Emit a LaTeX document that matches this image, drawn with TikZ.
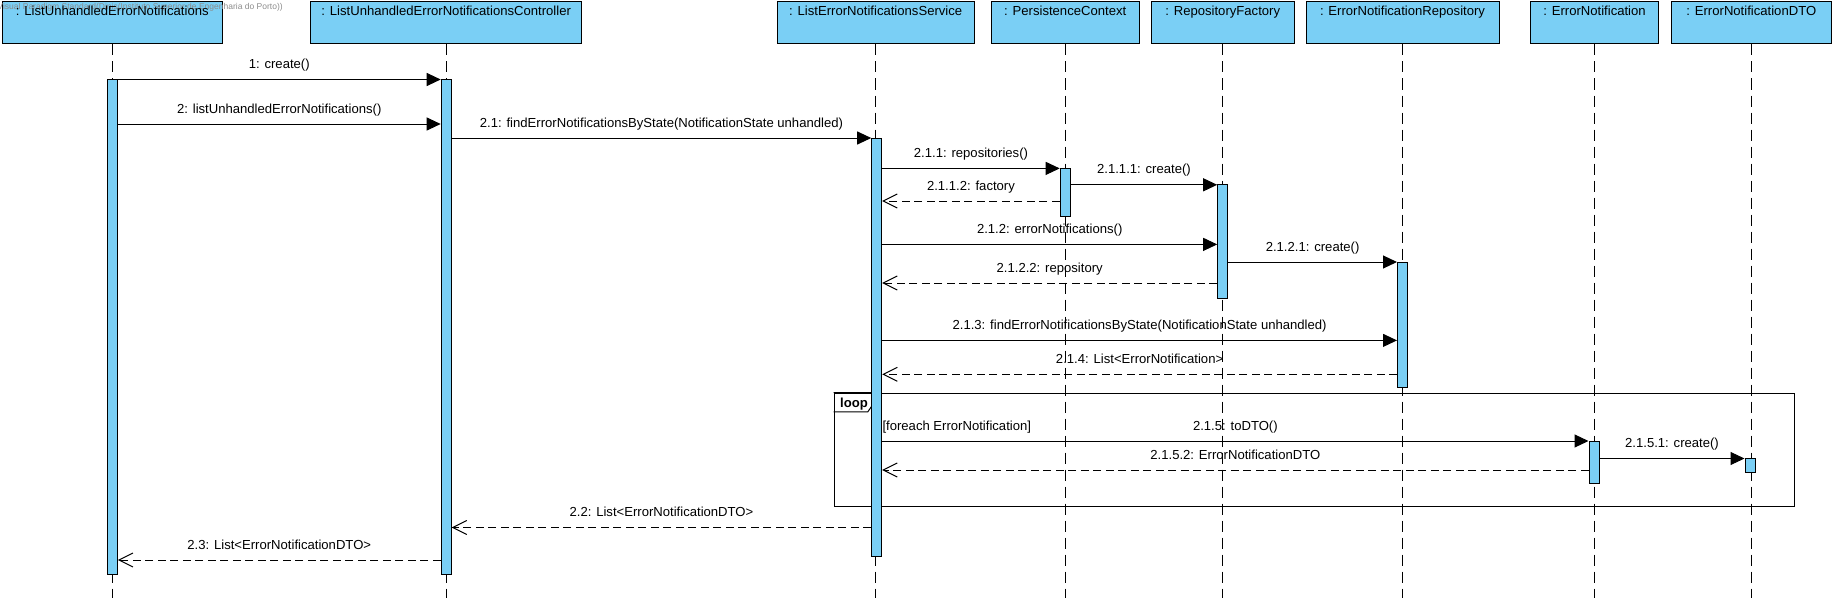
\documentclass[tikz,border=0pt]{standalone}
\usepackage{fontspec}
\setmainfont{Liberation Sans}
\usetikzlibrary{arrows.meta}
\definecolor{vpblue}{RGB}{122,207,245}
\begin{document}
\begin{tikzpicture}[x=1pt,y=-1pt,line width=1pt,
  font=\fontsize{13.1}{15}\selectfont,
  head/.style={draw=black,fill=vpblue,minimum height=42pt,inner sep=0pt},
  bar/.style={draw=black,fill=vpblue,minimum width=10pt,inner sep=0pt},
  life/.style={dash pattern=on 11pt off 6pt},
  msg/.style={-{Triangle[length=14pt,width=13pt]}},
  ret/.style={dash pattern=on 8pt off 4.5pt,-{Straight Barb[length=14pt,width=14pt]}},
  lbl/.style={midway,anchor=base,yshift=11pt,inner sep=0pt},
  ttl/.style={anchor=base,inner sep=0pt}]
\useasboundingbox (0,0) rectangle (1834,602);
% headers
\node[head,minimum width=220pt]   (h1) at (112.3,23) {};
\node[head,minimum width=271pt]   (h2) at (446.2,23) {};
\node[head,minimum width=196.7pt] (h3) at (875.7,23) {};
\node[head,minimum width=148.3pt] (h4) at (1065.2,23) {};
\node[head,minimum width=143.3pt] (h5) at (1222.7,23) {};
\node[head,minimum width=193pt]   (h6) at (1402.5,23) {};
\node[head,minimum width=127.6pt] (h7) at (1594.5,23) {};
\node[head,minimum width=160pt]   (h8) at (1751.3,23) {};
% watermark
\node[anchor=west,inner sep=0pt,text=black!45,font=\fontsize{8.5}{10}\selectfont] (wm) at (-3,7) {Visual Paradigm Standard(Dinis(Instituto Superior de Engenharia do Porto))};
\node[ttl] (t1) at (h1.north |- 0,16) {: ListUnhandledErrorNotifications};
\node[ttl] (t2) at (h2.north |- 0,16) {: ListUnhandledErrorNotificationsController};
\node[ttl] (t3) at (h3.north |- 0,16) {: ListErrorNotificationsService};
\node[ttl] (t4) at (h4.north |- 0,16) {: PersistenceContext};
\node[ttl] (t5) at (h5.north |- 0,16) {: RepositoryFactory};
\node[ttl] (t6) at (h6.north |- 0,16) {: ErrorNotificationRepository};
\node[ttl] (t7) at (h7.north |- 0,16) {: ErrorNotification};
\node[ttl] (t8) at (h8.north |- 0,16) {: ErrorNotificationDTO};
% lifelines
\foreach \h in {h1,h2,h3,h4,h5,h6,h7,h8}
  \draw[life] (\h.south) -- (\h.south |- 0,598);
% loop frame
\node[draw,minimum width=960pt,minimum height=113.4pt,inner sep=0pt] (loopf) at (1314,449.7) {};
\draw (loopf.north west) -- ++(38.7,0) -- ++(0,13) -- ++(-4.4,6.3) -- ++(-34.3,0);
\node[anchor=base,font=\fontsize{13.1}{15}\selectfont\bfseries,inner sep=0pt] (looplbl) at (854,407) {loop};
% activation bars
\node[bar,minimum height=494.5pt] (b1) at (112.3,326.75) {};
\node[bar,minimum height=494.5pt] (b2) at (446.2,326.75) {};
\node[bar,minimum height=418.7pt] (b3) at (876.7,347.35) {};
\node[bar,minimum height=48pt]    (b4) at (1065.2,192.4) {};
\node[bar,minimum height=113.2pt] (b5) at (1222.7,241.4) {};
\node[bar,minimum height=125pt]   (b6) at (1402.5,324.5) {};
\node[bar,minimum height=42pt]    (b7) at (1594,462) {};
\node[bar,minimum height=14pt]    (b8) at (1750,465.5) {};
% guard
\node[anchor=base west,inner sep=0pt] (guard) at (882,430) {[foreach ErrorNotification]};
% messages
\draw[msg] (b1.east |- 0,79.5) -- node[lbl]{1: create()} (b2.west |- 0,79.5);
\draw[msg] (b1.east |- 0,124) -- node[lbl]{2: listUnhandledErrorNotifications()} (b2.west |- 0,124);
\draw[msg] (b2.east |- 0,138) -- node[lbl]{2.1: findErrorNotificationsByState(NotificationState unhandled)} (b3.west |- 0,138);
\draw[msg] (b3.east |- 0,168.4) -- node[lbl]{2.1.1: repositories()} (b4.west |- 0,168.4);
\draw[msg] (b4.east |- 0,184.8) -- node[lbl]{2.1.1.1: create()} (b5.west |- 0,184.8);
\draw[ret] (b4.west |- 0,201) -- node[lbl]{2.1.1.2: factory} (b3.east |- 0,201);
\draw[msg] (b3.east |- 0,244.4) -- node[lbl]{2.1.2: errorNotifications()} (b5.west |- 0,244.4);
\draw[msg] (b5.east |- 0,262) -- node[lbl]{2.1.2.1: create()} (b6.west |- 0,262);
\draw[ret] (b5.west |- 0,283) -- node[lbl]{2.1.2.2: repository} (b3.east |- 0,283);
\draw[msg] (b3.east |- 0,340.4) -- node[lbl]{2.1.3: findErrorNotificationsByState(NotificationState unhandled)} (b6.west |- 0,340.4);
\draw[ret] (b6.west |- 0,374.3) -- node[lbl]{2.1.4: List<ErrorNotification>} (b3.east |- 0,374.3);
\draw[msg] (b3.east |- 0,441) -- node[lbl]{2.1.5: toDTO()} (b7.west |- 0,441);
\draw[msg] (b7.east |- 0,458.5) -- node[lbl]{2.1.5.1: create()} (b8.west |- 0,458.5);
\draw[ret] (b7.west |- 0,470) -- node[lbl]{2.1.5.2: ErrorNotificationDTO} (b3.east |- 0,470);
\draw[ret] (b3.west |- 0,527.5) -- node[lbl]{2.2: List<ErrorNotificationDTO>} (b2.east |- 0,527.5);
\draw[ret] (b2.west |- 0,560) -- node[lbl]{2.3: List<ErrorNotificationDTO>} (b1.east |- 0,560);
\end{tikzpicture}
\end{document}
